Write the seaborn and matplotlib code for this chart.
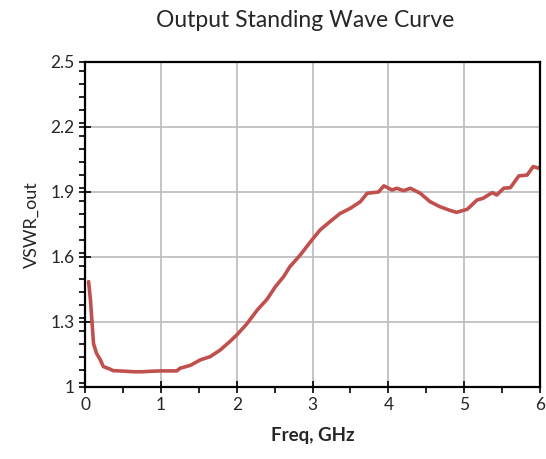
import numpy as np
import pandas as pd
import seaborn as sns
import matplotlib.pyplot as plt
from matplotlib.ticker import MultipleLocator

# values
freq_ghz = [0.045, 0.07, 0.088, 0.11, 0.15, 0.2, 0.24, 0.33, 0.37, 0.45, 0.55, 0.65,
            0.75, 0.85, 0.99, 1.1, 1.21, 1.25, 1.39, 1.52, 1.65, 1.78, 1.91, 2.0,
            2.13, 2.27, 2.4, 2.51, 2.62, 2.7, 2.84, 2.99, 3.1, 3.23, 3.36, 3.5,
            3.63, 3.72, 3.8, 3.87, 3.94, 4.05, 4.11, 4.2, 4.29, 4.42, 4.55, 4.68,
            4.82, 4.9, 5.04, 5.17, 5.25, 5.37, 5.43, 5.52, 5.61, 5.72, 5.83, 5.91,
            5.98, 6.0]
vswr_out = [1.486, 1.40, 1.31, 1.20, 1.155, 1.125, 1.094, 1.082, 1.075, 1.074, 1.072, 1.07,
            1.07, 1.072, 1.074, 1.074, 1.074, 1.086, 1.10, 1.125, 1.14, 1.17, 1.21, 1.24,
            1.29, 1.355, 1.405, 1.463, 1.51, 1.555, 1.61, 1.678, 1.725, 1.763, 1.80, 1.825,
            1.855, 1.894, 1.897, 1.90, 1.928, 1.909, 1.917, 1.906, 1.917, 1.894, 1.855, 1.832,
            1.814, 1.806, 1.82, 1.863, 1.871, 1.897, 1.886, 1.917, 1.92, 1.974, 1.978, 2.017,
            2.01, 2.015]

df = pd.DataFrame({'freq': freq_ghz, 'vswr': vswr_out})

sns.set_style('white')
plt.rcParams['font.family'] = ['Lato', 'DejaVu Sans']

fig = plt.figure(figsize=(5.46, 4.59), dpi=100)
ax = fig.add_axes([0.156, 0.157, 0.833, 0.708])

sns.lineplot(data=df, x='freq', y='vswr', ax=ax, color='#C0504D', linewidth=2.6)

ax.set_xlim(0, 6)
ax.set_ylim(1, 2.5)
ax.xaxis.set_major_locator(MultipleLocator(1))
ax.xaxis.set_minor_locator(MultipleLocator(0.5))
ax.yaxis.set_minor_locator(MultipleLocator(0.06))
ax.set_yticks([1, 1.3, 1.6, 1.9, 2.2, 2.5])
ax.set_yticklabels(['1', '1.3', '1.6', '1.9', '2.2', '2.5'])

ax.grid(True, which='major', color='#BFBFBF', linewidth=1.3)
for side in ['top', 'right', 'bottom', 'left']:
    ax.spines[side].set_visible(True)
    ax.spines[side].set_color('black')
    ax.spines[side].set_linewidth(1.6)

ax.tick_params(axis='both', which='major', direction='inout', length=8, width=1.2,
               labelsize=12.5, color='black', bottom=True, left=True)
ax.tick_params(axis='both', which='minor', direction='out', length=4, width=1.2,
               color='black', bottom=True, left=True)

ax.set_title('Output Standing Wave Curve', fontsize=16.5, pad=25, x=0.484)
ax.set_xlabel('Freq, GHz', fontsize=13.5, fontweight='bold', labelpad=10)
ax.set_ylabel('VSWR_out', fontsize=13, labelpad=8)

fig.savefig('out.png', dpi=100)
